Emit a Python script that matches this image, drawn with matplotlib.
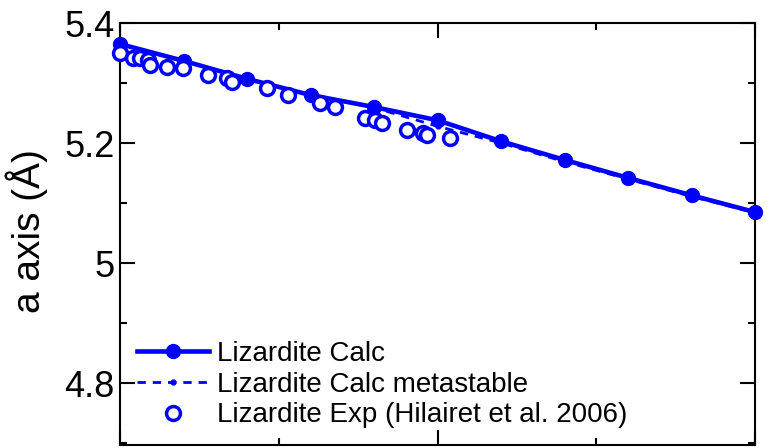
import numpy as np
import matplotlib
matplotlib.use('Agg')
import matplotlib.pyplot as plt
from matplotlib.ticker import MultipleLocator

plt.rcParams['font.family'] = ['Liberation Sans', 'DejaVu Sans']

# calculated lizardite a axis vs pressure (GPa)
p_calc = [0, 1, 2, 3, 4, 5, 6, 7, 8, 9, 10]
a_calc = [5.365, 5.337, 5.307, 5.280, 5.260, 5.238, 5.203, 5.172, 5.142, 5.113, 5.085]

# metastable branch
p_meta = [0, 1, 2, 3, 4, 5, 6, 7, 8, 9, 10]
a_meta = [5.365, 5.337, 5.307, 5.280, 5.259, 5.228, 5.200, 5.169, 5.140, 5.111, 5.084]

# experiment (Hilairet et al. 2006)
p_exp = [0.00, 0.20, 0.31, 0.44, 0.47, 0.74, 0.99, 1.39, 1.69, 1.76, 2.31,
         2.65, 3.15, 3.39, 3.86, 4.02, 4.13, 4.52, 4.77, 4.83, 5.20]
a_exp = [5.350, 5.342, 5.342, 5.338, 5.330, 5.327, 5.325, 5.313, 5.308, 5.302, 5.292,
         5.280, 5.267, 5.260, 5.242, 5.238, 5.233, 5.222, 5.217, 5.213, 5.208]

fig = plt.figure(figsize=(7.7, 4.48), dpi=100)
ax = fig.add_axes([120/770, 3/448, 635/770, 422/448])

ax.plot(p_calc, a_calc, '-o', color='blue', lw=3.3, ms=10, label='Lizardite Calc',
        zorder=3, clip_on=False)
ax.plot(p_meta, a_meta, '--o', color='blue', lw=2, ms=3.5, dashes=(3, 2.5),
        label='Lizardite Calc metastable', zorder=2, clip_on=False)
ax.plot(p_exp, a_exp, 'o', color='blue', mfc='white', mec='blue', ms=10, mew=2.5,
        label='Lizardite Exp (Hilairet et al. 2006)', zorder=4, clip_on=False)

ax.set_xlim(0, 10)
ax.set_ylim(4.697, 5.4)
ax.xaxis.set_major_locator(MultipleLocator(5))
ax.xaxis.set_minor_locator(MultipleLocator(2.5))
ax.set_yticks([4.8, 5.0, 5.2, 5.4])
ax.set_yticklabels(['4.8', '5', '5.2', '5.4'])
ax.yaxis.set_minor_locator(MultipleLocator(0.1))
ax.tick_params(which='both', direction='in', top=True, right=True, width=1.5,
               labelbottom=False, labelsize=26, pad=4)
ax.tick_params(which='major', length=11)
ax.tick_params(which='minor', length=5)
for s in ax.spines.values():
    s.set_linewidth(1.5)

ax.set_ylabel('a axis (Å)', fontsize=28)
ax.yaxis.set_label_coords(-0.113, 0.507)

ax.legend(loc='lower left', bbox_to_anchor=(0.0, 0.0), frameon=False, fontsize=20,
          handlelength=2.6, handletextpad=0.28, labelspacing=0.17, borderaxespad=0.3,
          borderpad=0.3, numpoints=1)

fig.savefig('out.png', dpi=100)
